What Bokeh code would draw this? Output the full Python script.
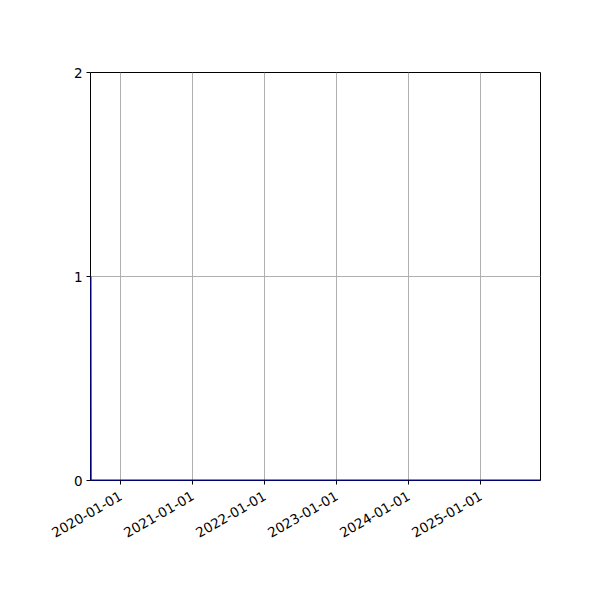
import math
import pandas as pd
from bokeh.plotting import figure
from bokeh.models import ColumnDataSource, FixedTicker, DatetimeTickFormatter, Range1d
from bokeh.embed import file_html
from bokeh.resources import INLINE

# Data: one spike of 1 at the start, zero afterwards
dates = ["2019-08-01", "2019-08-02", "2025-10-31"]
values = [1, 0, 0]

# Tick positions on the axes
x_tick_dates = ["2020-01-01", "2021-01-01", "2022-01-01", "2023-01-01", "2024-01-01", "2025-01-01"]
y_ticks = [0, 1, 2]

x = pd.to_datetime(dates)
source = ColumnDataSource(data={'x': x, 'y': values})

p = figure(width=592, height=592, x_axis_type="datetime",
           output_backend="svg", toolbar_location=None,
           x_range=Range1d(x[0], x[-1]), y_range=Range1d(0, 2),
           min_border_left=90, min_border_right=52, min_border_top=72, min_border_bottom=112)

p.line('x', 'y', source=source, line_color="#0000e0", line_width=2)

# Ticks and labels
tick_ms = [pd.Timestamp(d).value / 1e6 for d in x_tick_dates]
p.xaxis.ticker = FixedTicker(ticks=tick_ms)
fmt = "%Y-%m-%d"
p.xaxis.formatter = DatetimeTickFormatter(years=fmt, months=fmt, days=fmt, hours=fmt)
p.xaxis.major_label_orientation = math.pi / 6
p.yaxis.ticker = FixedTicker(ticks=y_ticks)

for ax in (p.xaxis, p.yaxis):
    ax.axis_line_color = None
    ax.minor_tick_line_color = None
    ax.major_tick_line_color = "black"
    ax.major_tick_in = 0
    ax.major_tick_out = 4
    ax.major_label_text_font = "DejaVu Sans"
    ax.major_label_text_font_size = "13.5px"
    ax.major_label_text_color = "black"
    ax.major_label_standoff = 4
p.xaxis.major_label_standoff = 10
p.xaxis.major_label_text_align = "right"

# Grid styling
p.grid.grid_line_color = "#b0b0b0"
p.grid.grid_line_width = 1

# Frame
p.outline_line_color = "black"
p.outline_line_width = 1
p.outline_line_alpha = 1

open("out.html", "w").write(file_html(p, INLINE))
